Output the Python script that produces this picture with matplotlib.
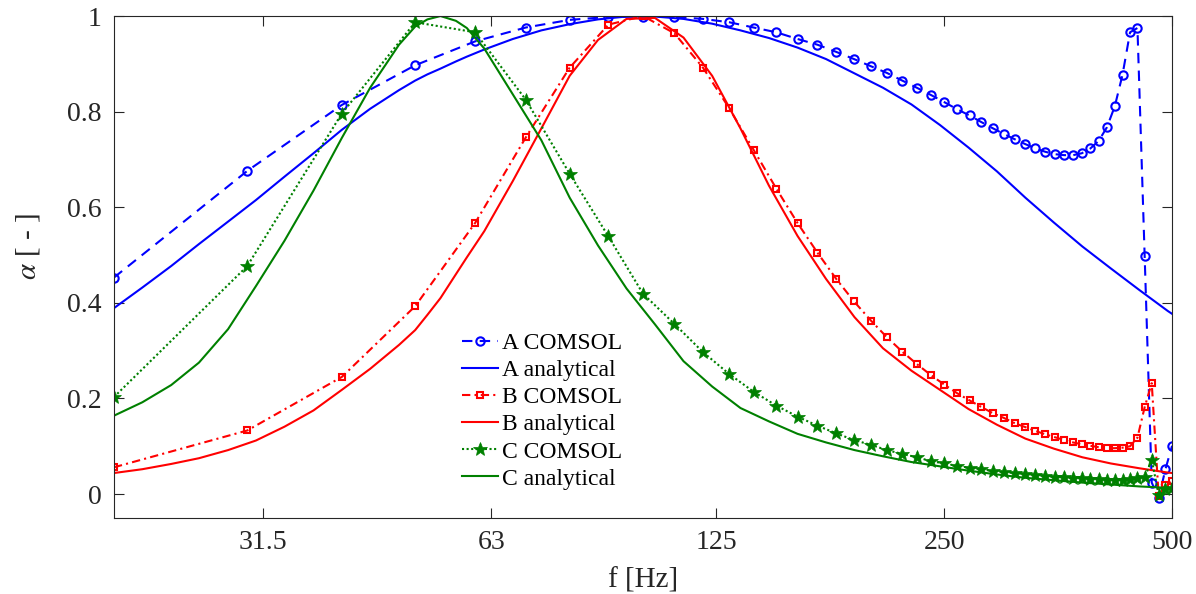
import matplotlib
matplotlib.use("Agg")
import matplotlib.pyplot as plt
from matplotlib.ticker import FixedLocator, NullLocator, FixedFormatter

plt.rcParams["font.family"] = ["Liberation Serif", "DejaVu Serif"]
plt.rcParams["mathtext.fontset"] = "stix"

# COMSOL frequencies (every 10 Hz)
f_comsol = [20, 30, 40, 50, 60, 70, 80, 90, 100, 110, 120, 130, 140, 150, 160,
            170, 180, 190, 200, 210, 220, 230, 240, 250, 260, 270, 280, 290, 300,
            310, 320, 330, 340, 350, 360, 370, 380, 390, 400, 410, 420, 430, 440,
            450, 460, 470, 480, 490, 500]

a_comsol = [0.453, 0.676, 0.814, 0.897, 0.947, 0.976, 0.992, 0.998, 0.999, 0.998,
            0.994, 0.987, 0.976, 0.966, 0.952, 0.940, 0.925, 0.910, 0.895, 0.881,
            0.865, 0.850, 0.835, 0.820, 0.805, 0.792, 0.778, 0.765, 0.753, 0.742,
            0.732, 0.723, 0.716, 0.711, 0.709, 0.709, 0.713, 0.723, 0.739, 0.767,
            0.811, 0.877, 0.966, 0.975, 0.497, 0.024, -0.009, 0.052, 0.101]

b_comsol = [0.056, 0.133, 0.245, 0.393, 0.567, 0.746, 0.892, 0.982, 1.000, 0.964,
            0.892, 0.807, 0.720, 0.639, 0.567, 0.505, 0.450, 0.403, 0.363, 0.328,
            0.298, 0.272, 0.249, 0.229, 0.211, 0.196, 0.182, 0.169, 0.159, 0.148,
            0.140, 0.132, 0.125, 0.119, 0.113, 0.108, 0.104, 0.101, 0.098, 0.096,
            0.096, 0.097, 0.100, 0.118, 0.182, 0.232, -0.004, 0.019, 0.027]

c_comsol = [0.203, 0.477, 0.796, 0.987, 0.966, 0.825, 0.670, 0.539, 0.419, 0.356,
            0.297, 0.251, 0.214, 0.185, 0.162, 0.143, 0.127, 0.113, 0.103, 0.092,
            0.084, 0.077, 0.069, 0.064, 0.059, 0.055, 0.052, 0.048, 0.046, 0.044,
            0.042, 0.040, 0.038, 0.036, 0.035, 0.034, 0.033, 0.032, 0.031, 0.030,
            0.030, 0.030, 0.031, 0.034, 0.035, 0.072, -0.002, 0.010, 0.012]

f_anal = [20, 21.8, 23.8, 25.9, 28.3, 30.8, 33.6, 36.7, 40, 43.6, 47.6, 50,
          51.9, 54, 56.6, 58.5, 61.7, 67.3, 73.4, 80, 87.2, 95.1, 103.7, 113.1,
          123.4, 134.5, 146.7, 160, 174.5, 190.3, 207.5, 226.3, 246.8, 269.1,
          293.5, 320, 349, 380.5, 415, 452.5, 493.5, 500]

a_anal = [0.389, 0.432, 0.477, 0.523, 0.570, 0.615, 0.664, 0.713, 0.762, 0.806,
          0.845, 0.865, 0.878, 0.890, 0.905, 0.915, 0.930, 0.952, 0.970, 0.983,
          0.993, 0.999, 0.999, 0.994, 0.984, 0.970, 0.954, 0.934, 0.910, 0.880,
          0.850, 0.815, 0.772, 0.725, 0.675, 0.620, 0.568, 0.518, 0.472, 0.427,
          0.383, 0.377]

b_anal = [0.044, 0.052, 0.063, 0.075, 0.092, 0.112, 0.141, 0.175, 0.218, 0.262,
          0.312, 0.343, 0.375, 0.410, 0.460, 0.495, 0.550, 0.655, 0.765, 0.875,
          0.950, 0.994, 0.996, 0.955, 0.875, 0.765, 0.645, 0.540, 0.450, 0.370,
          0.305, 0.258, 0.218, 0.178, 0.145, 0.116, 0.095, 0.077, 0.064, 0.054,
          0.045, 0.044]

c_anal = [0.164, 0.192, 0.228, 0.275, 0.345, 0.435, 0.530, 0.635, 0.745, 0.850,
          0.940, 0.978, 0.993, 1.000, 0.990, 0.975, 0.932, 0.836, 0.740, 0.620,
          0.520, 0.430, 0.355, 0.278, 0.225, 0.180, 0.152, 0.126, 0.108, 0.092,
          0.079, 0.067, 0.058, 0.049, 0.041, 0.034, 0.029, 0.024, 0.020, 0.016,
          0.013, 0.012]

xticks = [31.5, 63, 125, 250, 500]
xticklabels = ["31.5", "63", "125", "250", "500"]

blue = (0, 0, 1)
red = (1, 0, 0)
green = (0, 0.5, 0)

fig = plt.figure(figsize=(11.96, 5.94), dpi=100)
ax = fig.add_axes([0.0953, 0.128, 0.8847, 0.845])

ax.plot(f_comsol, a_comsol, linestyle=(0, (5, 3.5)), color=blue, lw=1.5,
        marker="o", ms=6, mfc="none", mew=1.5, label="A COMSOL")
ax.plot(f_anal, a_anal, "-", color=blue, lw=1.5, label="A analytical")
ax.plot(f_comsol, b_comsol, linestyle=(0, (4, 2, 1, 2)), color=red, lw=1.5,
        marker="s", ms=5, mfc="none", mew=1.5, label="B COMSOL")
ax.plot(f_anal, b_anal, "-", color=red, lw=1.5, label="B analytical")
ax.plot(f_comsol, c_comsol, linestyle=(0, (1, 1.2)), color=green, lw=1.5,
        marker="*", ms=10, mfc=green, mew=0.5, label="C COMSOL")
ax.plot(f_anal, c_anal, "-", color=green, lw=1.5, label="C analytical")

ax.set_xscale("log")
ax.set_xlim(20, 500)
ax.set_ylim(-0.05, 1.0)
ax.xaxis.set_major_locator(FixedLocator(xticks))
ax.xaxis.set_major_formatter(FixedFormatter(xticklabels))
ax.xaxis.set_minor_locator(NullLocator())
ax.set_yticks([0, 0.2, 0.4, 0.6, 0.8, 1])
ax.set_yticklabels(["0", "0.2", "0.4", "0.6", "0.8", "1"])

ax.tick_params(direction="in", length=7, width=0.8, top=True, right=True,
               labelsize=20, colors="#262626", pad=9)
for s in ax.spines.values():
    s.set_color("#262626")
    s.set_linewidth(0.8)

ax.set_xlabel("f [Hz]", fontsize=21, color="#262626", labelpad=9)
ax.set_ylabel(r"$\alpha$ [ - ]", fontsize=21, color="#262626")
ax.yaxis.set_label_coords(-0.068, 0.54)

ax.legend(loc="upper left", bbox_to_anchor=(0.329, 0.37), frameon=False,
          fontsize=17, handlelength=1.5, handletextpad=0.2, labelspacing=0.24,
          borderpad=0, borderaxespad=0)

fig.savefig("out.png", dpi=100)
